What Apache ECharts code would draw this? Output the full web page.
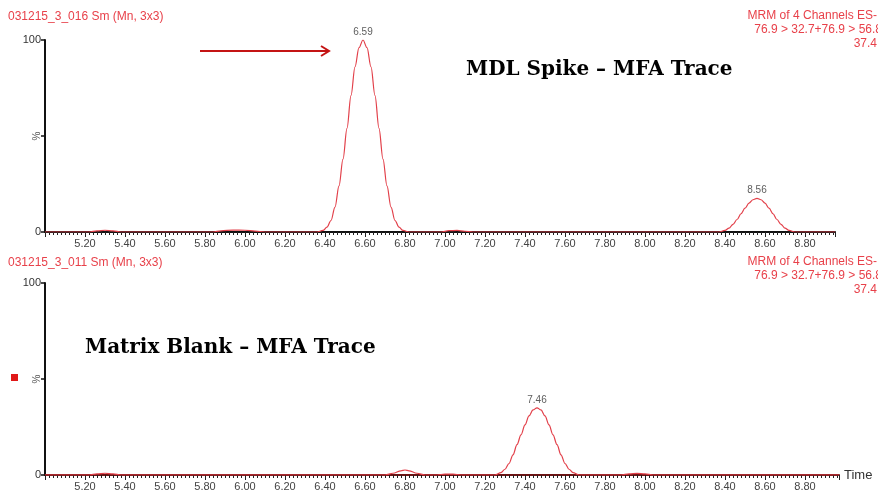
<!DOCTYPE html>
<html>
<head>
<meta charset="utf-8">
<script src="https://cdn.jsdelivr.net/npm/echarts@6/dist/echarts.min.js"></script>
<style>
  html, body { margin: 0; padding: 0; background: #fff; }
  #chart { width: 878px; height: 497px; }
</style>
</head>
<body>
<div id="chart"></div>
<script>
// Retention time (min) and relative intensity (%) for the MDL spike run
const spikeTime = [5.00, 5.22, 5.26, 5.30, 5.34, 5.38, 5.84, 5.88, 5.94, 6.00, 6.05, 6.10,
  6.36, 6.39, 6.41, 6.43, 6.45, 6.47, 6.49, 6.51, 6.53, 6.55, 6.57, 6.59,
  6.61, 6.63, 6.65, 6.67, 6.69, 6.71, 6.73, 6.75, 6.77, 6.79, 6.82,
  6.98, 7.02, 7.06, 7.10, 7.14,
  8.37, 8.40, 8.42, 8.44, 8.46, 8.48, 8.50, 8.52, 8.54, 8.56,
  8.58, 8.60, 8.62, 8.64, 8.66, 8.68, 8.70, 8.72, 8.75, 8.95];
const spikePct = [0, 0, 0.6, 0.9, 0.6, 0, 0, 0.6, 1.0, 0.9, 0.5, 0,
  0, 0.8, 2.5, 6, 13, 24, 38, 54, 71, 86, 96, 100,
  96, 86, 71, 54, 38, 24, 13, 6, 2.5, 0.8, 0,
  0, 0.7, 0.8, 0.4, 0,
  0, 0.8, 2, 4, 6.5, 9.5, 12.4, 15.0, 16.8, 17.5,
  16.8, 15.0, 12.4, 9.5, 6.5, 4, 2, 0.8, 0, 0];

// Retention time (min) and relative intensity (%) for the matrix blank run
const blankTime = [5.00, 5.22, 5.26, 5.30, 5.34, 5.38, 6.70, 6.74, 6.78, 6.80, 6.82, 6.86, 6.90,
  6.96, 7.00, 7.04, 7.08, 7.25, 7.28, 7.30, 7.32, 7.34, 7.36, 7.38, 7.40,
  7.42, 7.44, 7.46, 7.48, 7.50, 7.52, 7.54, 7.56, 7.58, 7.60, 7.62, 7.64, 7.67,
  7.88, 7.92, 7.96, 8.00, 8.04, 8.97];
const blankPct = [0, 0, 0.6, 0.9, 0.6, 0, 0, 0.9, 2.2, 2.6, 2.2, 0.9, 0,
  0, 0.5, 0.5, 0, 0, 1.2, 3, 6, 10.5, 15.8, 20.9, 26.1,
  30.8, 33.9, 35, 33.9, 30.8, 26.1, 20.9, 15.8, 10.5, 6, 3, 1.2, 0,
  0, 0.6, 0.8, 0.6, 0, 0];

// Labelled peak apexes
const spikePeakTime = [6.59, 8.56];
const spikePeakPct = [100, 17.5];
const blankPeakTime = [7.46];
const blankPeakPct = [35];

// Axis settings
const xMin = 5.0;
const xStep = 0.2;
const yTicks = [0, 50, 100];

const trace = '#e2404a';
const headRed = '#e8414a';
const axisFont = 'Liberation Sans, Arial, sans-serif';

const pairs = (xs, ys) => xs.map((x, i) => [x, ys[i]]);

function xAxisFor(gridIndex, max, withName, lineColor) {
  return {
    type: 'value', gridIndex, min: xMin, max, interval: xStep,
    name: withName ? 'Time' : '', nameLocation: 'end', nameGap: 5,
    nameTextStyle: { color: '#333', fontSize: 13, fontFamily: axisFont, verticalAlign: 'middle', padding: [4, 0, 0, 0] },
    axisLine: { onZero: false, lineStyle: { color: lineColor, width: 2 } },
    axisTick: { show: true, length: 5, inside: false, lineStyle: { color: '#222', width: 1 } },
    minorTick: { show: true, splitNumber: 10, length: 3, lineStyle: { color: '#222', width: 1 } },
    splitLine: { show: false },
    axisLabel: {
      color: '#444', fontSize: 11, fontFamily: axisFont, margin: 6,
      showMaxLabel: false,
      formatter: v => (v < 5.1 || v > 8.9) ? '' : v.toFixed(2)
    }
  };
}

function yAxisFor(gridIndex) {
  return {
    type: 'value', gridIndex, min: yTicks[0], max: yTicks[2], interval: 50,
    axisLine: { show: true, lineStyle: { color: '#111', width: 2 } },
    axisTick: { show: true, length: 4, lineStyle: { color: '#111', width: 1.5 } },
    splitLine: { show: false },
    axisLabel: {
      color: '#333', fontSize: 11, fontFamily: axisFont, margin: 4,
      formatter: v => (v === 50 ? '' : String(v))
    }
  };
}

function traceSeries(idx, xs, ys) {
  return {
    type: 'line', xAxisIndex: idx, yAxisIndex: idx,
    data: pairs(xs, ys), showSymbol: false, smooth: 0.35, smoothMonotone: 'x',
    lineStyle: { color: trace, width: 1.2 }, z: 3, silent: true
  };
}

function peakSeries(idx, xs, ys) {
  return {
    type: 'scatter', xAxisIndex: idx, yAxisIndex: idx,
    data: pairs(xs, ys), symbolSize: 0, silent: true,
    label: {
      show: true, position: 'top', distance: 3, color: '#333', fontSize: 10,
      fontFamily: axisFont, formatter: p => p.value[0].toFixed(2)
    }
  };
}

function headerTexts(top, runId) {
  const font = '12px ' + axisFont;
  return [
    { type: 'text', x: 8, y: top + 1, style: { text: '031215_3_' + runId + ' Sm (Mn, 3x3)', fill: headRed, font, verticalAlign: 'middle' } },
    { type: 'text', x: 877, y: top, style: { text: 'MRM of 4 Channels ES-', fill: headRed, font, align: 'right', verticalAlign: 'middle' } },
    { type: 'text', x: 882, y: top + 14, style: { text: '76.9 > 32.7+76.9 > 56.8', fill: headRed, font, align: 'right', verticalAlign: 'middle' } },
    { type: 'text', x: 877, y: top + 28, style: { text: '37.4', fill: headRed, font, align: 'right', verticalAlign: 'middle' } }
  ];
}

const chart = echarts.init(document.getElementById('chart'), null, { renderer: 'canvas' });
chart.setOption({
  animation: false,
  backgroundColor: '#fff',
  grid: [
    { left: 45, top: 40, width: 790, height: 192 },
    { left: 45, top: 283, width: 794, height: 192 }
  ],
  xAxis: [xAxisFor(0, 8.95, false, '#111'), xAxisFor(1, 8.97, true, '#6e1414')],
  yAxis: [yAxisFor(0), yAxisFor(1)],
  series: [
    traceSeries(0, spikeTime, spikePct),
    traceSeries(1, blankTime, blankPct),
    peakSeries(0, spikePeakTime, spikePeakPct),
    peakSeries(1, blankPeakTime, blankPeakPct)
  ],
  graphic: [
    ...headerTexts(16, '016'),
    ...headerTexts(262, '011'),
    { type: 'text', x: 37, y: 136, rotation: Math.PI / 2, style: { text: '%', fill: '#555', font: '10px ' + axisFont, align: 'center', verticalAlign: 'middle' } },
    { type: 'text', x: 37, y: 379, rotation: Math.PI / 2, style: { text: '%', fill: '#555', font: '10px ' + axisFont, align: 'center', verticalAlign: 'middle' } },
    { type: 'text', x: 466, y: 70, style: { text: 'MDL Spike \u2013 MFA Trace', fill: '#000', font: 'bold 20px "DejaVu Serif", "Liberation Serif", serif', verticalAlign: 'middle' } },
    { type: 'text', x: 85, y: 348, style: { text: 'Matrix Blank \u2013 MFA Trace', fill: '#000', font: 'bold 20px "DejaVu Serif", "Liberation Serif", serif', verticalAlign: 'middle' } },
    { type: 'rect', shape: { x: 11, y: 374, width: 7, height: 7 }, style: { fill: '#e01818' } },
    { type: 'line', shape: { x1: 200, y1: 51, x2: 329, y2: 51 }, style: { stroke: '#c41414', lineWidth: 2 } },
    { type: 'polyline', shape: { points: [[321, 46], [329, 51], [321, 56]] }, style: { stroke: '#c41414', lineWidth: 2, fill: null } }
  ]
});
</script>
</body>
</html>
